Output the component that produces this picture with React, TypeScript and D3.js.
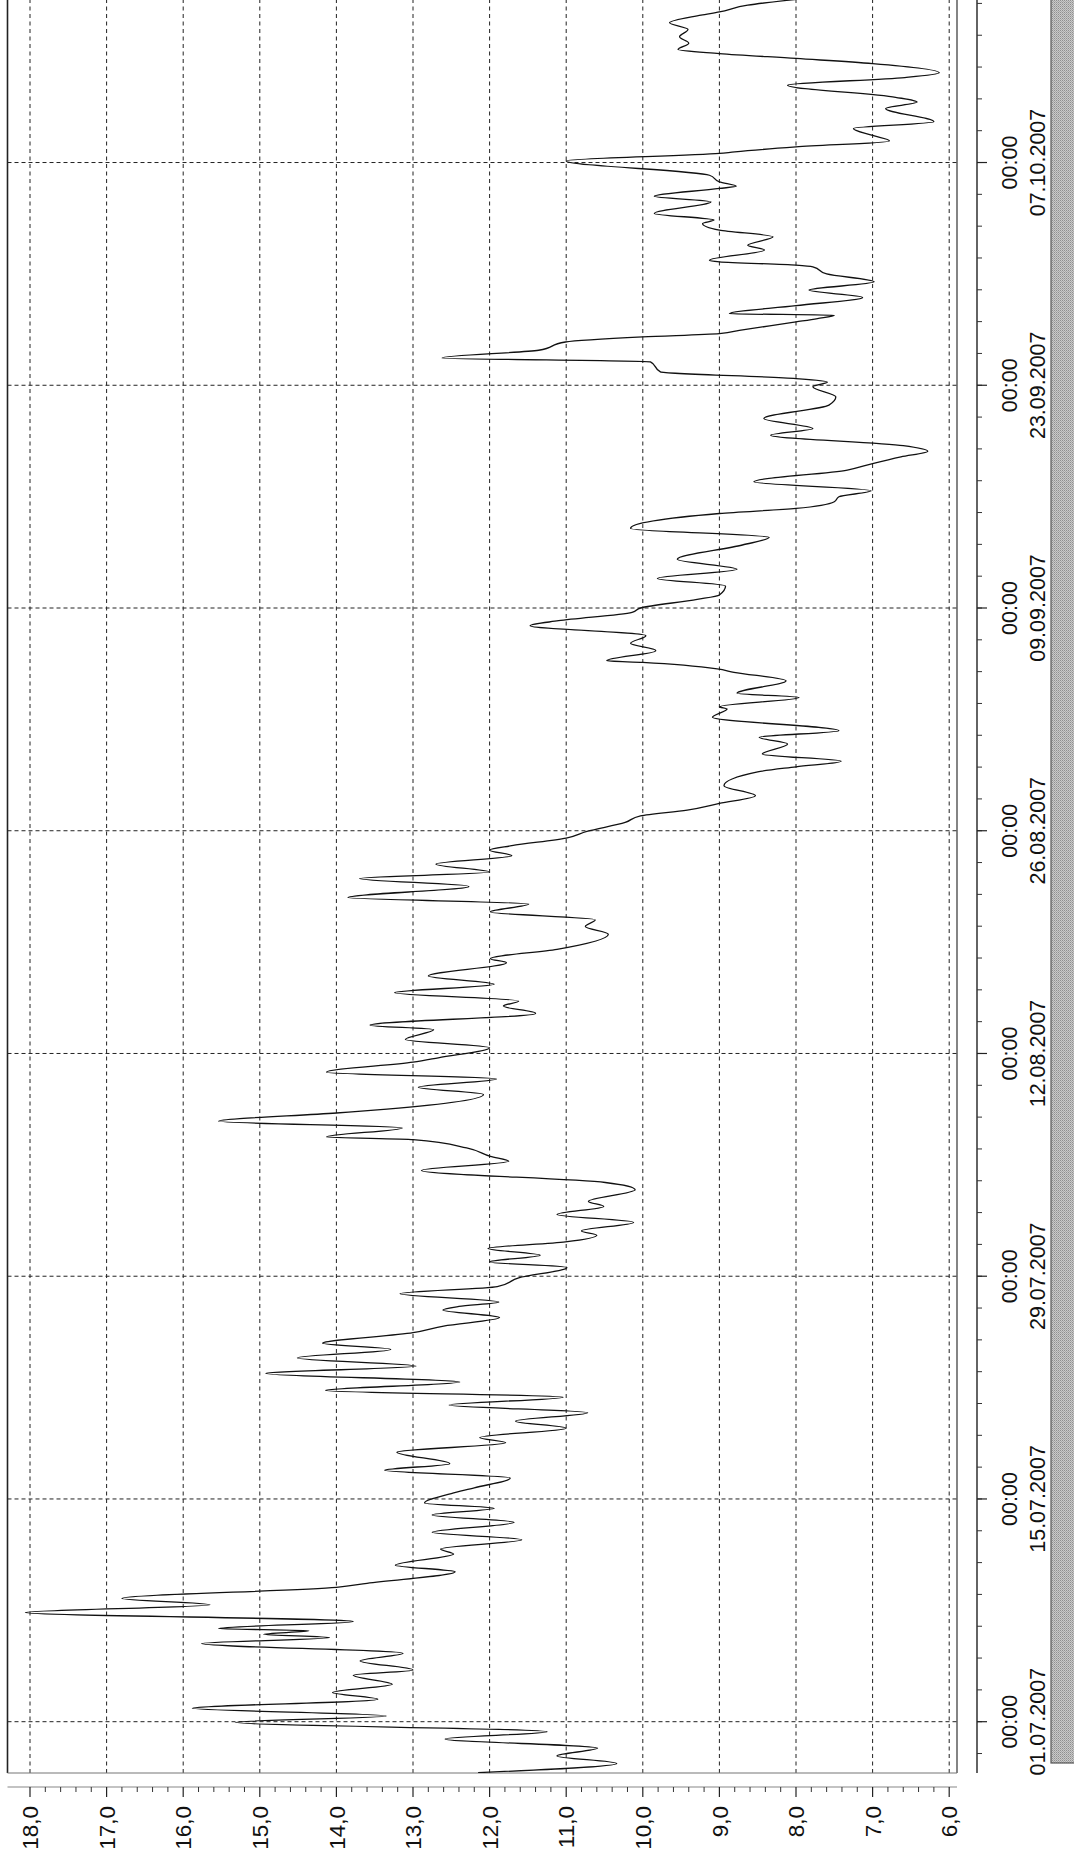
import React from "react";
import * as d3 from "d3";

const PAGE_W = 1074;
const PAGE_H = 1871;

// Series: time in days since 01.07.2007 00:00, and the measured level
const dayOffsets = [
  -3.2, -2.63, -2.15, -1.66, -1.08, -0.63, -0.04, 0.36, 0.84, 1.41, 1.83, 2.35, 2.92, 3.25,
  3.82, 4.3, 4.91, 5.29, 5.5, 5.71, 5.86, 6.3, 6.86, 7.35, 7.75, 8.44, 8.7, 9.42, 9.84,
  10.54, 10.85, 11.44, 11.9, 12.53, 12.99, 13.41, 13.75, 14.34, 14.7, 15.32, 15.8, 16.22,
  16.94, 17.53, 17.86, 18.45, 18.89, 19.42, 19.9, 20.4, 20.82, 21.35, 21.89, 22.35, 22.86,
  23.4, 23.78, 24.45, 24.87, 25.4, 25.88, 26.1, 26.38, 26.9, 27.35, 27.9, 28.55, 28.9,
  29.32, 29.74, 30.16, 30.58, 30.85, 31.38, 31.88, 32.39, 32.7, 33.43, 33.89, 34.65, 35.22,
  35.53, 36.06, 36.58, 36.75, 37.32, 37.74, 38.26, 38.5, 39.42, 39.88, 40.4, 40.82, 41.45,
  41.73, 42.36, 42.88, 43.5, 43.78, 44.52, 44.98, 45.3, 45.82, 46.35, 46.87, 47.71, 47.96,
  48.55, 49.5, 49.98, 50.4, 50.9, 51.39, 51.8, 52.5, 53.0, 53.4, 53.9, 54.43, 54.78, 55.06,
  55.54, 55.96, 56.52, 56.94, 57.3, 57.72, 58.2, 58.83, 59.7, 60.02, 60.36, 60.82, 61.45,
  61.87, 62.29, 63.13, 63.65, 63.8, 64.38, 64.64, 65.43, 65.96, 66.17, 66.58, 66.69, 67.32,
  67.78, 68.26, 68.89, 69.2, 69.73, 70.0, 70.54, 70.82, 71.38, 71.86, 72.43, 73.06, 73.96,
  74.44, 75.0, 75.94, 76.26, 76.68, 76.99, 77.37, 77.93, 78.67, 79.08, 79.5, 79.85, 80.2,
  80.86, 81.28, 81.91, 82.75, 83.27, 83.9, 84.2, 84.42, 84.84, 85.47, 85.72, 86.2, 86.72,
  87.04, 87.25, 87.45, 87.98, 88.19, 88.4, 88.5, 89.0, 89.52, 89.98, 90.5, 91.0, 91.44,
  91.55, 91.76, 91.86, 92.5, 92.8, 93.33, 93.75, 94.17, 94.38, 94.8, 95.53, 95.88, 96.37,
  96.51, 96.79, 97.2, 98.1, 98.57, 98.67, 98.98, 99.36, 99.7, 100.14, 100.56, 101.39,
  101.8, 102.1, 102.86, 103.34, 103.64, 104.22, 104.54, 104.85, 105.1, 105.5, 105.9,
  106.36, 106.78, 107.26, 107.47, 107.89, 108.3,
];

const levels = [
  12.15, 10.34, 11.12, 10.59, 12.58, 11.25, 15.32, 13.35, 15.88, 13.46, 14.05, 13.27, 13.78, 13.0,
  13.69, 13.13, 15.76, 14.09, 14.95, 14.36, 15.54, 13.78, 18.06, 15.65, 16.8, 14.0, 13.6, 12.45, 13.23,
  12.47, 12.64, 11.58, 12.75, 11.68, 12.75, 11.94, 12.85, 12.5, 12.2, 11.73, 13.37, 12.52,
  13.21, 11.79, 12.13, 11.0, 11.66, 10.72, 12.53, 11.04, 14.14, 12.39, 14.92, 12.96, 14.51,
  13.29, 14.18, 13.0, 12.6, 11.87, 12.61, 12.4, 11.88, 13.17, 11.9, 11.62, 10.99, 12.0,
  11.34, 12.02, 11.01, 10.6, 10.8, 10.12, 11.12, 10.51, 10.71, 10.1, 10.49, 12.89, 11.75,
  11.99, 12.3, 13.0, 14.13, 13.14, 15.54, 14.0, 13.34, 12.08, 12.93, 11.91, 14.13, 13.0,
  12.67, 12.0, 13.1, 12.73, 13.56, 11.4, 11.82, 11.62, 13.24, 11.94, 12.8, 11.78, 11.99,
  11.12, 10.45, 10.75, 10.62, 11.99, 11.49, 13.85, 12.27, 13.7, 12.0, 12.7, 11.71, 12.0, 11.71,
  11.0, 10.73, 10.23, 10.03, 9.42, 9.0, 8.53, 8.94, 8.5, 8.0, 7.41, 8.44, 8.11,
  8.48, 7.44, 9.09, 8.9, 9.0, 7.96, 8.77, 8.13, 8.81, 9.03, 10.0, 10.47, 9.83,
  10.16, 9.96, 11.47, 11.1, 10.14, 10.03, 9.29, 9.0, 8.92, 9.81, 8.77, 9.55, 8.7,
  8.35, 10.16, 9.0, 8.0, 7.5, 7.44, 7.02, 8.55, 7.33, 7.0, 6.63, 6.28, 6.6,
  8.33, 7.78, 8.42, 7.57, 7.48, 7.78, 7.59, 8.0, 9.77, 9.9, 12.62, 11.36, 11.01,
  10.0, 9.0, 8.74, 8.0, 7.72, 7.5, 8.87, 8.0, 7.13, 7.83, 6.98, 7.6, 7.78,
  8.0, 9.0, 9.13, 8.41, 8.63, 8.3, 9.0, 9.22, 9.07, 9.85, 9.11, 9.85, 9.0,
  8.78, 9.0, 9.13, 11.0, 9.0, 8.8, 8.0, 6.78, 7.0, 7.25, 6.2, 6.83,
  6.42, 6.7, 8.11, 6.58, 6.13, 7.0, 8.0, 9.0, 9.54, 9.4, 9.52,
  9.41, 9.65, 9.24, 9.0, 8.63, 7.9,
];

// Value axis
const valueTicks = [18, 17, 16, 15, 14, 13, 12, 11, 10, 9, 8, 7, 6];
const valueTickLabels = ["18,0", "17,0", "16,0", "15,0", "14,0", "13,0", "12,0", "11,0", "10,0", "9,0", "8,0", "7,0", "6,0"];

// Time axis: labelled every 14 days, minor ticks every 2 days
const majorTickDays = [0, 14, 28, 42, 56, 70, 84, 98];
const majorTimeLabels = ["00:00", "00:00", "00:00", "00:00", "00:00", "00:00", "00:00", "00:00"];
const majorDateLabels = ["01.07.2007", "15.07.2007", "29.07.2007", "12.08.2007", "26.08.2007", "09.09.2007", "23.09.2007", "07.10.2007"];
const minorTickDays = d3.range(-2, 109, 2);

const startDate = new Date(2007, 6, 1);
const DAY_MS = 864e5;
const toDate = (d: number) => new Date(startDate.getTime() + d * DAY_MS);

const FONT = "'Liberation Sans', Arial, Helvetica, sans-serif";

export default function App() {
  // Layout works in the chart's own frame (time runs left→right, value top→bottom);
  // the whole frame is then turned a quarter turn counter-clockwise onto the page.
  const plotX0 = PAGE_H - 1773; // start of plotted time range
  const plotX1 = PAGE_H;
  const plotY0 = 7.5;
  const plotY1 = 957;

  const x = d3
    .scaleTime()
    .domain([toDate(0), toDate(98)])
    .range([149.3, 149.3 + 98 * 15.91]);
  const y = d3.scaleLinear().domain([18, 6]).range([30, 949.2]);

  const points = dayOffsets.map((d, i) => [toDate(d), levels[i]] as [Date, number]);
  const line = d3
    .line<[Date, number]>()
    .x((p) => x(p[0]))
    .y((p) => y(p[1]))
    .curve(d3.curveMonotoneX);

  const valueAxisX = PAGE_H - 1787;
  const timeAxisY = 977;

  const minorValueTicks = d3.range(6, 18.001, 0.2).filter((v) => Math.abs(v - Math.round(v)) > 1e-6);

  return (
    <svg
      width={PAGE_W}
      height={PAGE_H}
      style={{ position: "absolute", left: 0, top: 0, background: "#fff" }}
      fontFamily={FONT}
    >
      <rect x={0} y={0} width={PAGE_W} height={PAGE_H} fill="#fff" />
      <defs>
        <clipPath id="plot-clip">
          <rect x={plotX0} y={plotY0} width={plotX1 - plotX0} height={plotY1 - plotY0} />
        </clipPath>
        <pattern id="stipple" width="2" height="2" patternUnits="userSpaceOnUse">
          <rect width="2" height="2" fill="#c9c9c9" />
          <rect width="1" height="1" fill="#8f8f8f" />
          <rect x="1" y="1" width="1" height="1" fill="#a8a8a8" />
        </pattern>
      </defs>

      {/* Scroll bar strip along the right page edge */}
      <rect x={1051} y={-2} width={30} height={1765} fill="url(#stipple)" stroke="#555" strokeWidth={1.2} />

      <g transform={`translate(0,${PAGE_H}) rotate(-90)`}>
        {/* value grid */}
        {valueTicks.map((v) => (
          <line
            key={"vg" + v}
            x1={plotX0}
            x2={plotX1}
            y1={y(v)}
            y2={y(v)}
            stroke="#222"
            strokeWidth={1}
            strokeDasharray="4,3.5"
          />
        ))}
        {/* time grid */}
        {majorTickDays.map((d) => (
          <line
            key={"tg" + d}
            x1={x(toDate(d))}
            x2={x(toDate(d))}
            y1={plotY0}
            y2={plotY1}
            stroke="#222"
            strokeWidth={1}
            strokeDasharray="4,3"
          />
        ))}

        {/* plot frame */}
        <line x1={plotX0} x2={plotX1} y1={plotY0} y2={plotY0} stroke="#222" strokeWidth={1.6} />
        <line x1={plotX0} x2={plotX1} y1={plotY1} y2={plotY1} stroke="#333" strokeWidth={1.2} />
        <line x1={plotX0} x2={plotX0} y1={plotY0} y2={plotY1} stroke="#777" strokeWidth={1.2} />

        {/* series */}
        <path
          d={line(points) || ""}
          fill="none"
          stroke="#111"
          strokeWidth={1.3}
          strokeLinejoin="round"
          clipPath="url(#plot-clip)"
        />

        {/* value axis */}
        <line x1={valueAxisX} x2={valueAxisX} y1={plotY0} y2={plotY1} stroke="#888" strokeWidth={1.2} />
        {minorValueTicks.map((v) => (
          <line key={"mv" + v} x1={valueAxisX} x2={valueAxisX - 5} y1={y(v)} y2={y(v)} stroke="#333" strokeWidth={1} />
        ))}
        {valueTicks.map((v, i) => (
          <g key={"vt" + v}>
            <line x1={valueAxisX} x2={valueAxisX - 10} y1={y(v)} y2={y(v)} stroke="#222" strokeWidth={1.2} />
            <text
              x={valueAxisX - 19}
              y={y(v)}
              dy="0.36em"
              textAnchor="end"
              fontSize={22.5}
              fill="#111"
            >
              {valueTickLabels[i]}
            </text>
          </g>
        ))}

        {/* time axis */}
        <line x1={plotX0} x2={plotX1} y1={timeAxisY} y2={timeAxisY} stroke="#222" strokeWidth={1.4} />
        {minorTickDays.map((d) => (
          <line
            key={"mt" + d}
            x1={x(toDate(d))}
            x2={x(toDate(d))}
            y1={timeAxisY}
            y2={timeAxisY + 5}
            stroke="#333"
            strokeWidth={1}
          />
        ))}
        {majorTickDays.map((d, i) => (
          <g key={"tt" + d}>
            <line
              x1={x(toDate(d))}
              x2={x(toDate(d))}
              y1={timeAxisY}
              y2={timeAxisY + 10}
              stroke="#222"
              strokeWidth={1.2}
            />
            <text x={x(toDate(d))} y={1017} textAnchor="middle" fontSize={21.5} fill="#111">
              {majorTimeLabels[i]}
            </text>
            <text x={x(toDate(d))} y={1045} textAnchor="middle" fontSize={21.5} fill="#111">
              {majorDateLabels[i]}
            </text>
          </g>
        ))}
      </g>
    </svg>
  );
}
